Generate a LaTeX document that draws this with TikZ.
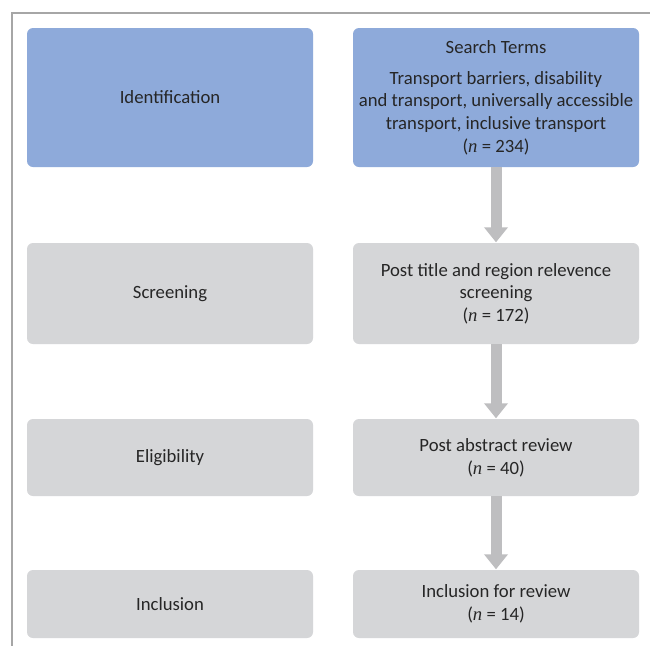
\documentclass[tikz,border=0pt]{standalone}
\usepackage{fontspec}
\setmainfont{Carlito}
\newfontfamily\nfont{Liberation Serif}
\usetikzlibrary{arrows.meta}
\definecolor{bluebox}{HTML}{8EAADA}
\definecolor{graybox}{HTML}{D5D6D8}
\definecolor{arrowgray}{HTML}{BEBEC0}
\definecolor{framegray}{HTML}{A6A6A6}
\definecolor{txt}{HTML}{262626}
\newcommand{\nn}{{\nfont\itshape n}}
\begin{document}
\begin{tikzpicture}[x=1pt,y=-1pt,
  box/.style={rectangle, rounded corners=6pt, minimum width=286pt, inner sep=0pt, align=center,
    text=txt, font=\fontsize{18.7}{22.6}\selectfont},
  bluestage/.style={box, fill=bluebox},
  graystage/.style={box, fill=graybox},
  flow/.style={draw=arrowgray, line width=11pt, -{Triangle[width=23pt,length=15pt]}, shorten >=0.5pt}]
\useasboundingbox (0,0) rectangle (650,646);
\fill[white] (0,0) rectangle (650,646);
\coordinate (fr1) at (650,13);
\coordinate (fr2) at (12,13);
\coordinate (fr3) at (12,646);
\draw[framegray, line width=1.1pt] (fr1) -- (fr2) -- (fr3);

\node[bluestage, minimum height=139pt] (ident) at (170,97.5) {Identification};
\node[bluestage, minimum height=139pt] (search) at (496,97.5) {Search Terms\\[8.5pt]Transport barriers, disability\\and transport, universally accessible\\transport, inclusive transport\\(\nn{} = 234)};

\node[graystage, minimum height=101pt] (screen) at (170,293.5) {Screening};
\node[graystage, minimum height=101pt] (post) at (496,293.5) {Post title and region relevence\\screening\\(\nn{} = 172)};

\node[graystage, minimum height=77pt] (elig) at (170,457.5) {Eligibility};
\node[graystage, minimum height=77pt] (abs) at (496,457.5) {Post abstract review\\(\nn{} = 40)};

\node[graystage, minimum height=68pt] (incl) at (170,604) {Inclusion};
\node[graystage, minimum height=68pt] (rev) at (496,604) {Inclusion for review\\(\nn{} = 14)};

\draw[flow] (search.south) -- (post.north);
\draw[flow] (post.south) -- (abs.north);
\draw[flow] (abs.south) -- (rev.north);
\end{tikzpicture}
\end{document}
